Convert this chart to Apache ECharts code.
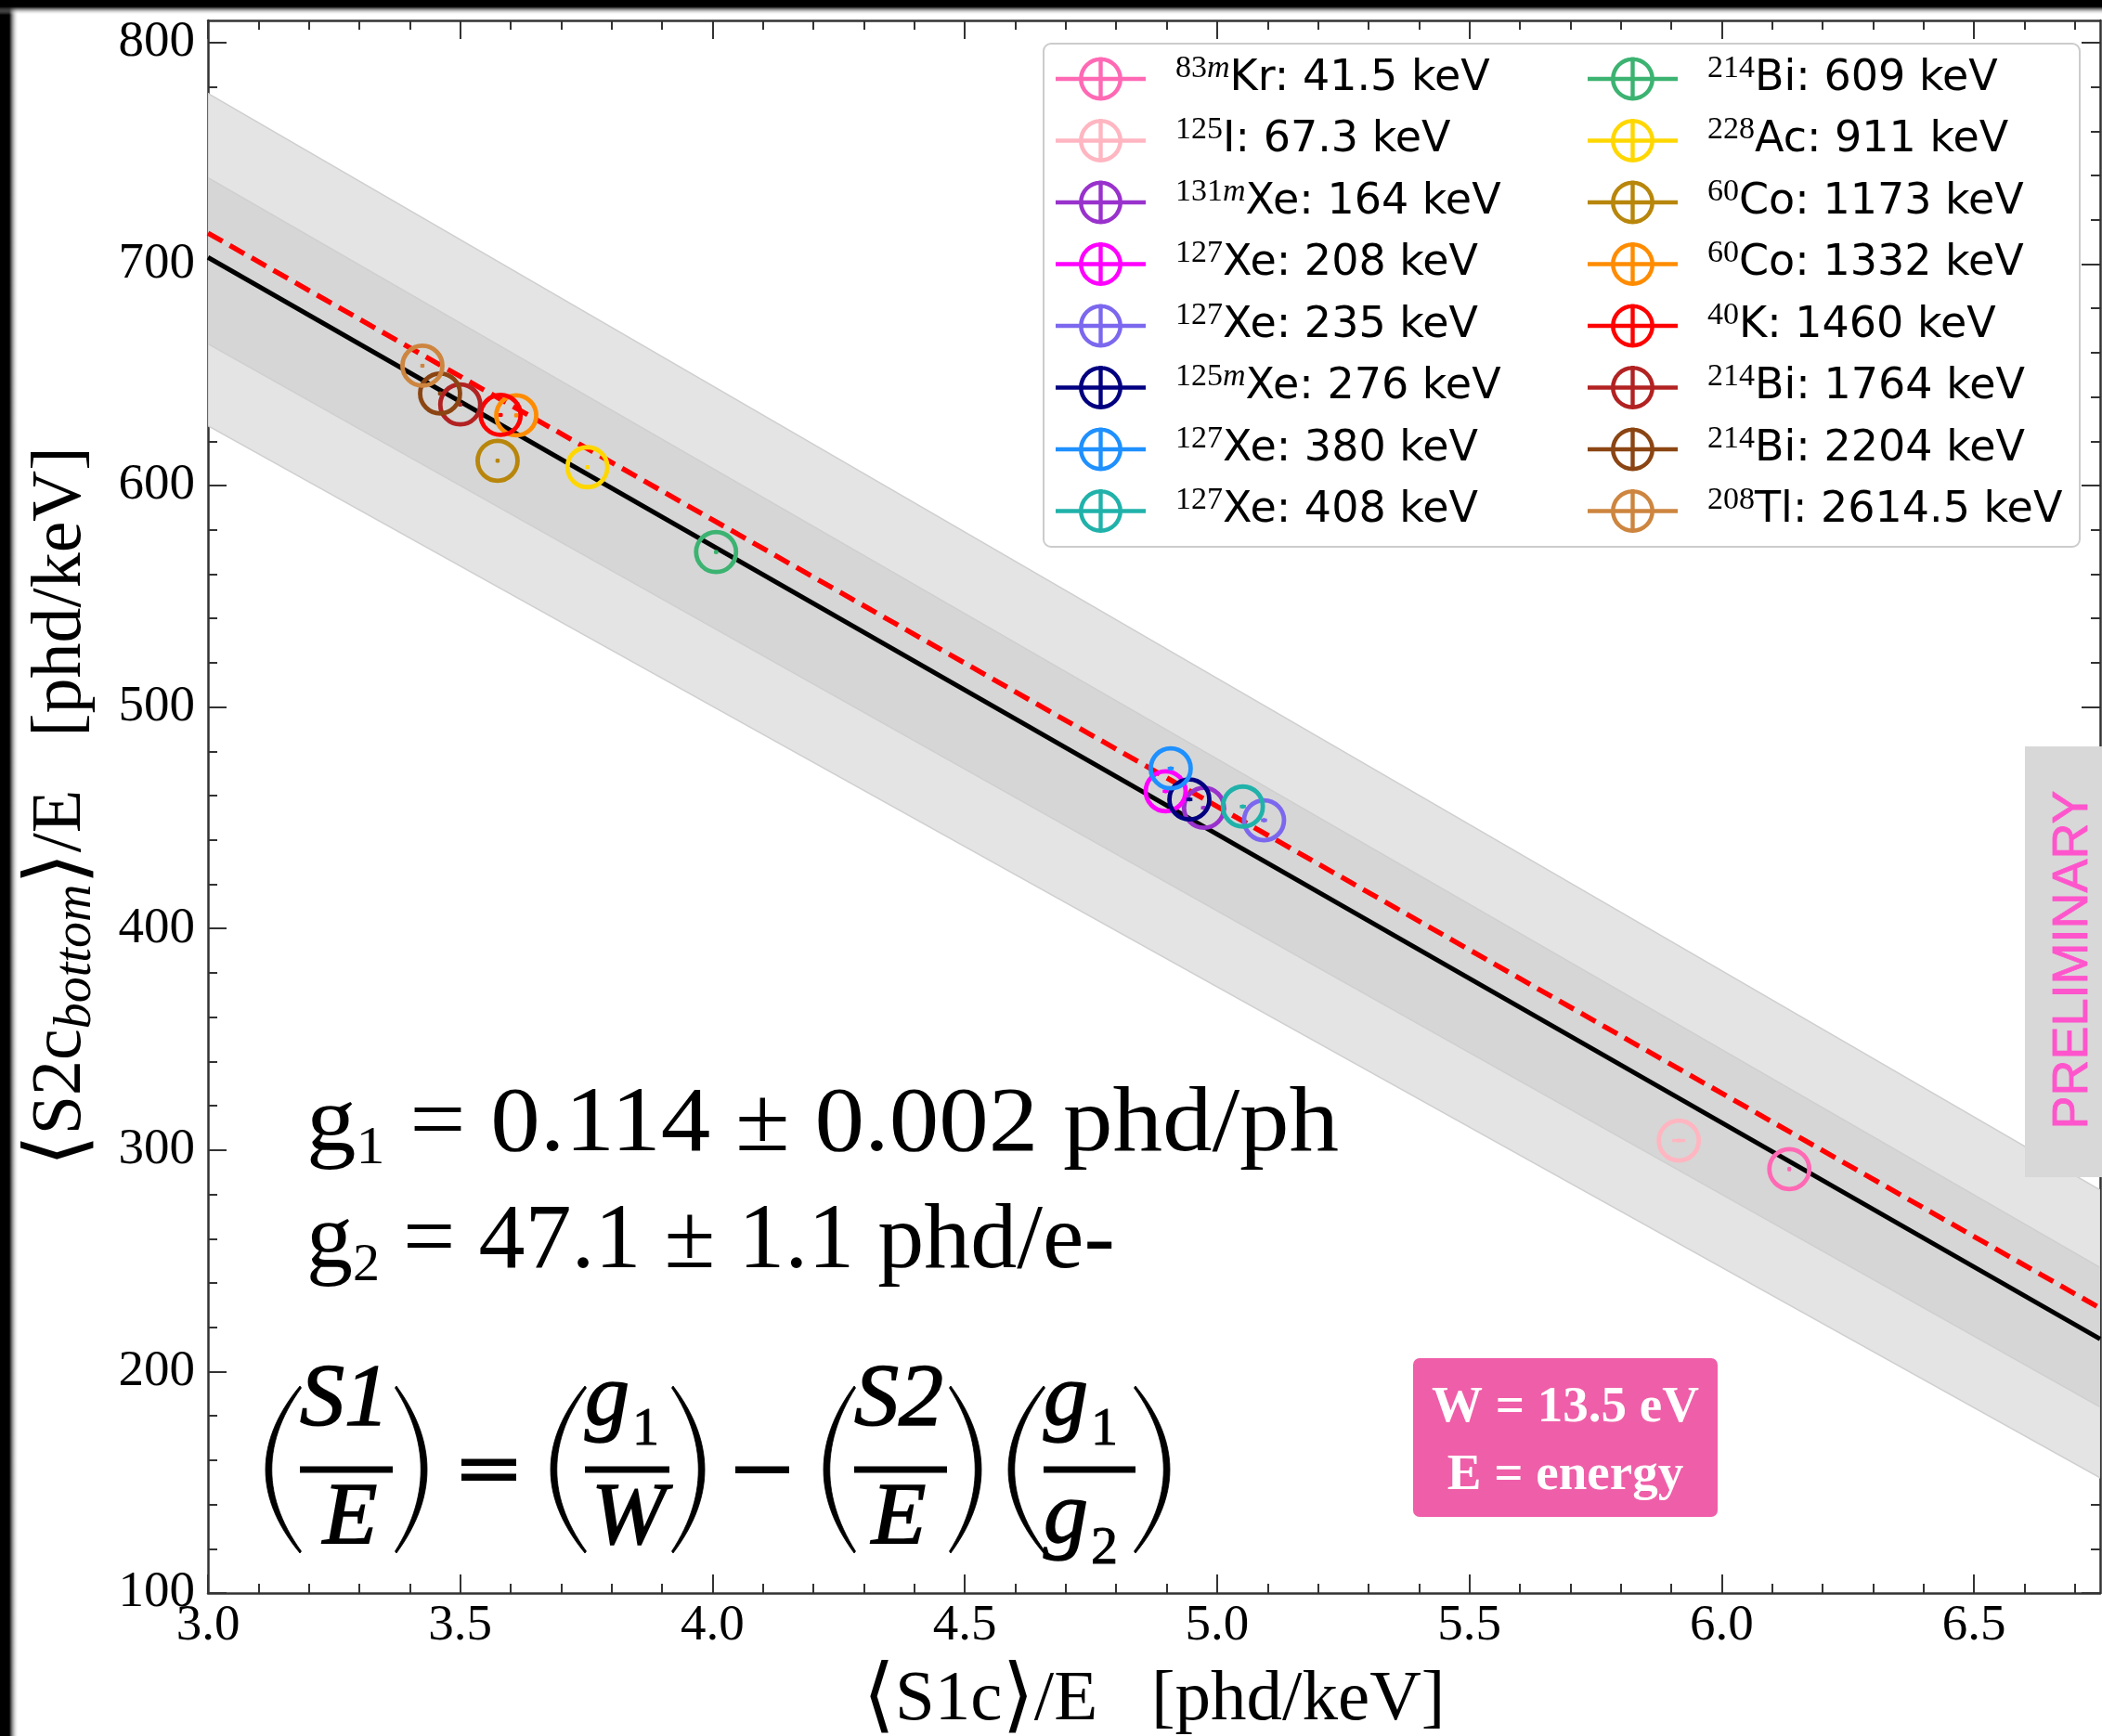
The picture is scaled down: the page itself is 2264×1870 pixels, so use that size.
<!DOCTYPE html>
<html><head><meta charset="utf-8">
<script src="https://cdn.jsdelivr.net/npm/echarts@6/dist/echarts.min.js"></script>
<style>html,body{margin:0;padding:0;background:#fff}#c{width:2264px;height:1870px}</style>
</head><body><div id="c"></div>
<script>
// ---------------- data ----------------
const isoNames = ['83mKr: 41.5 keV','125I: 67.3 keV','131mXe: 164 keV','127Xe: 208 keV','127Xe: 235 keV','125mXe: 276 keV','127Xe: 380 keV','127Xe: 408 keV',
                  '214Bi: 609 keV','228Ac: 911 keV','60Co: 1173 keV','60Co: 1332 keV','40K: 1460 keV','214Bi: 1764 keV','214Bi: 2204 keV','208Tl: 2614.5 keV'];
const isoSup = ['83','125','131','127','127','125','127','127','214','228','60','60','40','214','214','208'];
const isoSupItalic = ['m','','m','','','m','','','','','','','','','',''];
const isoText = ['Kr: 41.5 keV','I: 67.3 keV','Xe: 164 keV','Xe: 208 keV','Xe: 235 keV','Xe: 276 keV','Xe: 380 keV','Xe: 408 keV',
                 'Bi: 609 keV','Ac: 911 keV','Co: 1173 keV','Co: 1332 keV','K: 1460 keV','Bi: 1764 keV','Bi: 2204 keV','Tl: 2614.5 keV'];
const isoColors = ['#FF69B4','#FFB6C1','#9932CC','#FF00FF','#7B68EE','#000080','#1E90FF','#20B2AA',
                   '#3CB371','#FFD700','#B8860B','#FF8C00','#FF0000','#B22222','#8B4513','#CD853F'];
const s1PerE = [6.134, 5.915, 4.974, 4.898, 5.093, 4.945, 4.908, 5.051, 4.007, 3.752, 3.574, 3.611, 3.580, 3.500, 3.460, 3.425];
const s2PerE = [291.4, 304.3, 454.5, 462.0, 448.9, 458.3, 472.3, 455.1, 570.0, 608.3, 611.2, 631.7, 631.9, 636.6, 641.6, 654.1];
const s1Err  = [0.003, 0.013, 0.006, 0.006, 0.006, 0.006, 0.006, 0.006, 0.004, 0.004, 0.004, 0.004, 0.004, 0.004, 0.004, 0.004];
const s2Err  = [1.0, 0.5, 0.8, 0.8, 0.8, 0.8, 0.8, 0.8, 0.8, 0.8, 0.8, 0.8, 0.8, 0.8, 0.8, 0.8];

const fitX = [3.0, 6.75];
const fitBlack = [703.0, 214.7];
const fitRedDashed = [714.0, 228.6];
const bandX = [3.0, 6.75];
const bandOuterUpper = [777, 282];
const bandInnerUpper = [739, 247];
const bandInnerLower = [664, 184];
const bandOuterLower = [627, 152];

const xMajorTicks = [3.0, 3.5, 4.0, 4.5, 5.0, 5.5, 6.0, 6.5];
const yMajorTicks = [100, 200, 300, 400, 500, 600, 700, 800];
const X_MIN = 3.0, X_MAX = 6.75, Y_MIN = 100, Y_MAX = 810;

// minor ticks: 5 subdivisions of each major interval
const xMinorTicks = [];
for (let k = 1; 3.0 + k * 0.1 < X_MAX - 1e-9; k++) { if (k % 5) xMinorTicks.push(+(3.0 + k * 0.1).toFixed(2)); }
const yMinorTicks = [];
for (let k = 1; 100 + k * 20 < Y_MAX; k++) { if (k % 5) yMinorTicks.push(100 + k * 20); }

// ---------------- helpers ----------------
const AX = '#333';
function xAxisDef(pos, ticks, len, withLine, labels) {
  return {
    type: 'value', min: X_MIN, max: X_MAX, position: pos,
    axisLine: { show: withLine, onZero: false, lineStyle: { color: AX, width: 2.5 } },
    axisTick: { show: true, inside: true, length: len, customValues: ticks, lineStyle: { color: AX, width: 2 } },
    axisLabel: labels ? {
      show: true, customValues: xMajorTicks, margin: 8, color: '#000',
      fontFamily: 'Liberation Serif', fontSize: 55, formatter: v => (+v).toFixed(1)
    } : { show: false },
    splitLine: { show: false }, minorTick: { show: false }
  };
}
function yAxisDef(pos, ticks, len, withLine, labels) {
  return {
    type: 'value', min: Y_MIN, max: Y_MAX, position: pos,
    axisLine: { show: withLine, onZero: false, lineStyle: { color: AX, width: 2.5 } },
    axisTick: { show: true, inside: true, length: len, customValues: ticks, lineStyle: { color: AX, width: 2 } },
    axisLabel: labels ? {
      show: true, customValues: yMajorTicks, margin: 14, color: '#000',
      fontFamily: 'Liberation Serif', fontSize: 55, formatter: v => String(v)
    } : { show: false },
    splitLine: { show: false }, minorTick: { show: false }
  };
}
const BR_FONT = '"DejaVu Sans ExtraLight", "DejaVu Sans"';
const xAxes = [
  xAxisDef('bottom', xMajorTicks, 20, true, true),
  xAxisDef('bottom', xMinorTicks, 10, false, false),
  xAxisDef('top', xMajorTicks, 20, true, false),
  xAxisDef('top', xMinorTicks, 10, false, false)
];
Object.assign(xAxes[0], {
  name: '{br|⟨}{t|S1c}{br|⟩}{t|/E   [phd/keV]}', nameLocation: 'middle', nameGap: 72, nameMoveOverlap: false,
  nameTextStyle: { rich: {
    br: { fontFamily: BR_FONT, fontSize: 88, color: '#000', lineHeight: 88 },
    t: { fontFamily: 'Liberation Serif', fontSize: 77, color: '#000', lineHeight: 88 } } }
});
const yAxes = [
  yAxisDef('left', yMajorTicks, 20, true, true),
  yAxisDef('left', yMinorTicks, 10, false, false),
  yAxisDef('right', yMajorTicks, 20, true, false),
  yAxisDef('right', yMinorTicks, 10, false, false)
];
Object.assign(yAxes[0], {
  name: '{br|⟨}{t|S2c}{sub|bottom}{br|⟩}{t|/E   [phd/keV]}', nameLocation: 'middle', nameGap: 114, nameRotate: 90, nameMoveOverlap: false,
  nameTextStyle: { rich: {
    br: { fontFamily: BR_FONT, fontSize: 88, color: '#000', lineHeight: 88 },
    t: { fontFamily: 'Liberation Serif', fontSize: 76, color: '#000', lineHeight: 88 },
    sub: { fontFamily: 'Liberation Serif', fontStyle: 'italic', fontSize: 56, color: '#000', lineHeight: 66, verticalAlign: 'bottom' } } }
});

function bandSeries(lower, upper, fill, z) {
  return {
    type: 'custom', silent: true, z: z, clip: true, xAxisIndex: 0, yAxisIndex: 0,
    dimensions: ['x', 'y'], encode: { x: 0, y: 1 },
    data: [[bandX[0], lower[0]]],
    renderItem: function (params, api) {
      const top = bandX.map((x, i) => api.coord([x, upper[i]]));
      const bot = bandX.map((x, i) => api.coord([x, lower[i]])).reverse();
      return { type: 'polygon', shape: { points: top.concat(bot) },
               style: { fill: fill, stroke: '#cfcfcf', lineWidth: 1.5 } };
    }
  };
}

function markerRender(params, api) {
  const x = api.value(0), y = api.value(1), xe = api.value(2), ye = api.value(3);
  const c = api.coord([x, y]);
  const l = api.coord([x - xe, y]), r = api.coord([x + xe, y]);
  const t = api.coord([x, y + ye]), b = api.coord([x, y - ye]);
  const col = api.visual('color');
  return { type: 'group', children: [
    { type: 'circle', shape: { cx: c[0], cy: c[1], r: 21.5 }, style: { fill: 'none', stroke: col, lineWidth: 4.8 } },
    { type: 'line', shape: { x1: l[0], y1: c[1], x2: r[0], y2: c[1] }, style: { stroke: col, lineWidth: 3.5 } },
    { type: 'line', shape: { x1: c[0], y1: t[1], x2: c[0], y2: b[1] }, style: { stroke: col, lineWidth: 3 } },
    { type: 'circle', shape: { cx: c[0], cy: c[1], r: 2.2 }, style: { fill: col } }
  ] };
}

const series = [
  bandSeries(bandOuterLower, bandOuterUpper, '#e4e4e4', 1),
  bandSeries(bandInnerLower, bandInnerUpper, '#d6d6d6', 1.5),
  { type: 'line', name: 'fit', silent: true, z: 3, symbol: 'none', xAxisIndex: 0, yAxisIndex: 0,
    data: fitX.map((x, i) => [x, fitBlack[i]]), lineStyle: { color: '#000', width: 5 } },
  { type: 'line', name: 'ref', silent: true, z: 3, symbol: 'none', xAxisIndex: 0, yAxisIndex: 0,
    data: fitX.map((x, i) => [x, fitRedDashed[i]]), lineStyle: { color: '#ff0000', width: 5.5, type: [18, 9] } }
];
isoNames.forEach((n, i) => {
  series.push({
    type: 'custom', name: n, z: 5, clip: true, silent: true, xAxisIndex: 0, yAxisIndex: 0,
    itemStyle: { color: isoColors[i] },
    dimensions: ['x', 'y', 'xe', 'ye'], encode: { x: 0, y: 1 },
    data: [[s1PerE[i], s2PerE[i], s1Err[i], s2Err[i]]],
    renderItem: markerRender
  });
});

// legend icon: ring with error-bar cross (97 x 47 box)
const iconPath = 'path://M25 23.5 A23.5 23.5 0 1 1 72 23.5 A23.5 23.5 0 1 1 25 23.5 Z ' +
                 'M29.5 23.5 A19 19 0 1 0 67.5 23.5 A19 19 0 1 0 29.5 23.5 Z ' +
                 'M0 21.3 H97 V25.7 H0 Z M46.3 0 H50.7 V47 H46.3 Z';
const legendRich = {
  sup: { fontFamily: 'Liberation Serif', fontSize: 34, lineHeight: 32, verticalAlign: 'top', color: '#000', padding: [0, 0, 0, 27] },
  supi: { fontFamily: 'Liberation Serif', fontStyle: 'italic', fontSize: 34, lineHeight: 32, verticalAlign: 'top', color: '#000' },
  t: { fontFamily: 'DejaVu Sans', fontSize: 46, lineHeight: 56, color: '#000' }
};
function legendFmt(name) {
  const i = isoNames.indexOf(name);
  return '{sup|' + isoSup[i] + '}' + (isoSupItalic[i] ? '{supi|' + isoSupItalic[i] + '}' : '') + '{t|' + isoText[i] + '}';
}
function legendDef(names, left) {
  return {
    data: names.map(n => ({ name: n, icon: iconPath })), orient: 'vertical', left: left, top: 57,
    itemWidth: 97, itemHeight: 47, itemGap: 15, padding: 0, selectedMode: false, z: 6,
    itemStyle: { borderWidth: 0 }, formatter: legendFmt, textStyle: { rich: legendRich }
  };
}

// ---------------- annotations ----------------
const G = [];
function txt(text, x, baseline, size, o) {
  o = o || {};
  const k = o.k || 0.3375;
  const el = { type: 'text', x: x, y: baseline - k * size, z: 20, rotation: o.rot || 0, scaleX: o.sx || 1,
    style: { text: text, fill: o.color || '#000',
      font: (o.style || 'normal') + ' ' + (o.weight || 'normal') + ' ' + size + 'px "' + (o.family || 'Liberation Serif') + '"',
      textAlign: o.align || 'center', textVerticalAlign: 'middle', align: o.align || 'center', verticalAlign: 'middle',
      rich: o.rich } };
  if (o.stroke) { el.style.stroke = o.color || '#000'; el.style.lineWidth = o.stroke; }
  return el;
}
function rect(x, y, w, h, fill, r) {
  return { type: 'rect', z: 20, shape: { x: x, y: y, width: w, height: h, r: r || 0 }, style: { fill: fill } };
}
function paren(xTip, xBulge, yTop, yBot, thick) {
  const ym = (yTop + yBot) / 2;
  const dir = Math.sign(xTip - xBulge);
  const cxo = 2 * xBulge - xTip;
  const cxi = 2 * (xBulge + dir * thick) - xTip;
  const q = (a, b, c, t) => (1 - t) * (1 - t) * a + 2 * (1 - t) * t * b + t * t * c;
  const pts = [];
  const N = 30;
  for (let i = 0; i <= N; i++) { const t = i / N; pts.push([q(xTip, cxo, xTip, t), q(yTop, ym, yBot, t)]); }
  for (let i = N; i >= 0; i--) { const t = i / N; pts.push([q(xTip + dir * 1.5, cxi, xTip + dir * 1.5, t), q(yTop + 2, ym, yBot - 2, t)]); }
  return { type: 'polygon', z: 20, shape: { points: pts }, style: { fill: '#000', stroke: '#000', lineWidth: 0.8 } };
}

// frame shadow at top and left
G.push({ type: 'rect', z: 100, shape: { x: 0, y: 0, width: 20, height: 1870 },
  style: { fill: { type: 'linear', x: 0, y: 0, x2: 1, y2: 0, colorStops: [
    { offset: 0, color: '#000' }, { offset: 0.5, color: '#000' }, { offset: 1, color: 'rgba(255,255,255,0)' }] } } });
G.push({ type: 'rect', z: 100, shape: { x: 0, y: 0, width: 2264, height: 16 },
  style: { fill: { type: 'linear', x: 0, y: 0, x2: 0, y2: 1, colorStops: [
    { offset: 0, color: '#000' }, { offset: 0.45, color: '#000' }, { offset: 1, color: 'rgba(255,255,255,0)' }] } } });

// legend frame
G.push({ type: 'rect', z: 1, shape: { x: 1124, y: 47, width: 1116, height: 542, r: 8 },
  style: { fill: 'rgba(255,255,255,0.85)', stroke: '#cccccc', lineWidth: 2 } });

// g1 / g2 text
const gRich = {
  m: { fontFamily: 'Liberation Serif', fontSize: 100, lineHeight: 110, color: '#000' },
  s: { fontFamily: 'Liberation Serif', fontSize: 58, lineHeight: 66, verticalAlign: 'bottom', color: '#000' }
};
G.push(txt('{m|g}{s|1}{m| = 0.114 ± 0.002 phd/ph}', 330, 1246, 100, { align: 'left', rich: gRich, sx: 1.07 }));
G.push(txt('{m|g}{s|2}{m| = 47.1 ± 1.1 phd/e-}', 330, 1372, 100, { align: 'left', rich: gRich }));

// equation (S1/E) = (g1/W) - (S2/E)(g1/g2)
const EQ = 96, it = { style: 'italic', stroke: 1.6 };
const pTop = 1493, pBot = 1673;
[[323, 286], [427, 460], [630, 593], [725, 759], [920, 887], [1024, 1057], [1124, 1086], [1223, 1260]]
  .forEach(p => G.push(paren(p[0], p[1], pTop, pBot, 6)));
G.push(rect(323, 1579.5, 100, 7, '#000'));
G.push(rect(630, 1579.5, 91, 7, '#000'));
G.push(rect(920, 1579.5, 100, 7, '#000'));
G.push(rect(1124, 1579.5, 99, 7, '#000'));
G.push(rect(497, 1571.5, 59, 7.5, '#000'));
G.push(rect(497, 1587.5, 59, 7.5, '#000'));
G.push(rect(792, 1579.5, 58, 7.5, '#000'));
G.push(txt('S1', 371, 1542, EQ, it));
G.push(txt('E', 377, 1670, EQ, it));
G.push(txt('g', 630, 1541, EQ, { style: 'italic', align: 'left', stroke: 1.6 }));
G.push(txt('1', 681, 1560, 58, { align: 'left', stroke: 1 }));
G.push(txt('W', 677, 1670, EQ, it));
G.push(txt('S2', 968, 1542, EQ, it));
G.push(txt('E', 968, 1670, EQ, it));
G.push(txt('g', 1124, 1541, EQ, { style: 'italic', align: 'left', stroke: 1.6 }));
G.push(txt('1', 1175, 1560, 58, { align: 'left', stroke: 1 }));
G.push(txt('g', 1124, 1668, EQ, { style: 'italic', align: 'left', stroke: 1.6 }));
G.push(txt('2', 1175, 1688, 58, { align: 'left', stroke: 1 }));

// pink box
G.push({ type: 'rect', z: 20, shape: { x: 1522, y: 1463, width: 328, height: 171, r: 7 }, style: { fill: '#ef5ea8' } });
G.push(txt('W = 13.5 eV', 1686, 1535, 55, { weight: 'bold', color: '#fff' }));
G.push(txt('E = energy', 1686, 1608, 55, { weight: 'bold', color: '#fff' }));

// PRELIMINARY tag
G.push({ type: 'rect', z: 20, shape: { x: 2181, y: 804, width: 90, height: 464 }, style: { fill: '#d8d8d8' } });
G.push({ type: 'text', z: 21, x: 2233, y: 1034, rotation: Math.PI / 2,
  style: { text: 'PRELIMINARY', fill: '#ff55cc', font: 'normal normal 54px "Liberation Sans"',
    stroke: '#ff55cc', lineWidth: 0.8,
    textAlign: 'center', textVerticalAlign: 'middle', align: 'center', verticalAlign: 'middle' } });

const option = {
  animation: false,
  backgroundColor: '#ffffff',
  grid: { left: 224, right: 2, top: 22, bottom: 154, containLabel: false, outerBoundsMode: 'none' },
  xAxis: xAxes,
  yAxis: yAxes,
  legend: [legendDef(isoNames.slice(0, 8), 1137), legendDef(isoNames.slice(8), 1710)],
  series: series,
  graphic: { elements: G }
};
const chart = echarts.init(document.getElementById('c'), null, { renderer: 'canvas', width: 2264, height: 1870 });
chart.setOption(option);
</script>
</body></html>
